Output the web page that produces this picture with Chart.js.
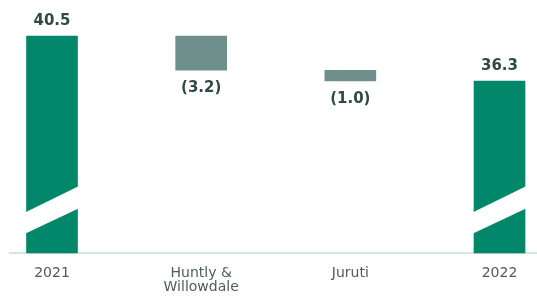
<!DOCTYPE html>
<html>
<head>
<meta charset="utf-8">
<script src="https://cdn.jsdelivr.net/npm/chart.js@4/dist/chart.umd.min.js"></script>
<style>
  html, body { margin: 0; padding: 0; background: #ffffff; }
  #wrap { width: 537px; height: 296px; }
</style>
</head>
<body>
<div id="wrap"><canvas id="c" width="537" height="296"></canvas></div>
<script>
// ---- data ----
const categories = [['2021'], ['Huntly &', 'Willowdale'], ['Juruti'], ['2022']];
const values = [40.5, -3.2, -1.0, 36.3];
const kinds = ['total', 'delta', 'delta', 'total'];

// ---- style ----
const GREEN = '#03876b';
const GREY = '#6f8f8c';
const LABEL_COLOR = '#2f4a45';
const TICK_COLOR = '#4d5d59';
const AXIS_COLOR = '#d6e5dd';
const Y_MIN = 20.24, Y_MAX = 43.86;          // broken axis base
const BREAK = { lowL: 22.1, lowR: 24.35, highL: 24.1, highR: 26.43 };

// build floating ranges for the waterfall
let running = 0;
const ranges = values.map((v, i) => {
  if (kinds[i] === 'total') { running = v; return [Y_MIN, v]; }
  const start = running; running = running + v;
  return [Math.min(start, running), Math.max(start, running)];
});
const points = ranges.map((r, i) => ({ x: i, y: r }));
const colors = kinds.map(k => k === 'total' ? GREEN : GREY);

const labelPlugin = {
  id: 'wfLabels',
  afterDatasetsDraw(chart) {
    const ctx = chart.ctx;
    const meta = chart.getDatasetMeta(0);
    const ys = chart.scales.y;
    ctx.save();
    meta.data.forEach((bar, i) => {
      const p = bar.getProps(['x', 'y', 'base', 'width'], true);
      const left = p.x - p.width / 2 - 1, right = p.x + p.width / 2 + 1;
      if (kinds[i] === 'total') {
        // axis break band
        const w = p.width;
        const slopeLow = (ys.getPixelForValue(BREAK.lowR) - ys.getPixelForValue(BREAK.lowL)) / w;
        const slopeHigh = (ys.getPixelForValue(BREAK.highR) - ys.getPixelForValue(BREAK.highL)) / w;
        const x0 = p.x - w / 2;
        const yl0 = ys.getPixelForValue(BREAK.lowL), yh0 = ys.getPixelForValue(BREAK.highL);
        ctx.fillStyle = '#ffffff';
        ctx.beginPath();
        ctx.moveTo(left, yh0 + slopeHigh * (left - x0));
        ctx.lineTo(right, yh0 + slopeHigh * (right - x0));
        ctx.lineTo(right, yl0 + slopeLow * (right - x0));
        ctx.lineTo(left, yl0 + slopeLow * (left - x0));
        ctx.closePath();
        ctx.fill();
      }
      ctx.font = 'bold 15px "DejaVu Sans"';
      ctx.fillStyle = LABEL_COLOR;
      ctx.textAlign = 'center';
      ctx.textBaseline = 'middle';
      const v = values[i];
      if (kinds[i] === 'total') {
        const top = ys.getPixelForValue(ranges[i][1]);
        ctx.fillText(v.toFixed(1), p.x, top - 14.5);
      } else {
        const bottom = ys.getPixelForValue(ranges[i][0]);
        ctx.fillText('(' + Math.abs(v).toFixed(1) + ')', p.x, bottom + 18);
      }
    });
    ctx.restore();
  }
};

new Chart(document.getElementById('c'), {
  type: 'bar',
  data: {
    datasets: [{
      data: points,
      backgroundColor: colors,
      borderWidth: 0,
      barThickness: 51,
      clip: false
    }]
  },
  options: {
    responsive: false,
    animation: false,
    devicePixelRatio: 1,
    layout: { padding: { left: 10, right: 0, top: 0, bottom: -11 } },
    plugins: { legend: { display: false }, tooltip: { enabled: false } },
    scales: {
      x: {
        type: 'linear',
        offset: false,
        min: -0.2816,
        max: 3.2514,
        afterBuildTicks: (axis) => { axis.ticks = categories.map((_, i) => ({ value: i })); },
        grid: { display: false, drawTicks: false, offset: false },
        border: { display: true, color: AXIS_COLOR, width: 2 },
        ticks: {
          padding: 13,
          maxRotation: 0,
          autoSkip: false,
          color: TICK_COLOR,
          font: { family: '"DejaVu Sans"', size: 14, lineHeight: 1.0 },
          callback: (v) => categories[v] || ''
        }
      },
      y: {
        display: false,
        min: Y_MIN,
        max: Y_MAX
      }
    }
  },
  plugins: [labelPlugin]
});
</script>
</body>
</html>
